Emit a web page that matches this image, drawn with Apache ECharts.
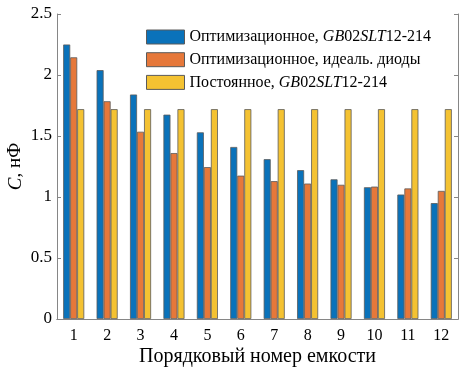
<!DOCTYPE html>
<html><head><meta charset="utf-8">
<script src="https://cdn.jsdelivr.net/npm/echarts@6/dist/echarts.min.js"></script>
<style>html,body{margin:0;padding:0;background:#fff}#c{width:466px;height:374px}</style>
</head><body><div id="c"></div>
<script>
const categories = ['1','2','3','4','5','6','7','8','9','10','11','12'];
const optimGB = [2.25, 2.04, 1.84, 1.675, 1.53, 1.41, 1.31, 1.22, 1.145, 1.08, 1.02, 0.95];
const optimIdeal = [2.145, 1.785, 1.535, 1.36, 1.245, 1.175, 1.13, 1.11, 1.10, 1.085, 1.07, 1.05];
const constGB = [1.72, 1.72, 1.72, 1.72, 1.72, 1.72, 1.72, 1.72, 1.72, 1.72, 1.72, 1.72];
const seriesNames = ['Оптимизационное, GB02SLT12-214', 'Оптимизационное, идеаль. диоды', 'Постоянное, GB02SLT12-214'];
const yTicks = [0, 0.5, 1, 1.5, 2, 2.5];

const FONT = '"Liberation Serif", "Times New Roman", serif';
const AX = '#868686';
const chart = echarts.init(document.getElementById('c'));
const edge = {borderColor: '#5a5a5a', borderWidth: 0.8};
function bar(name, data, color) {
  return {name, type: 'bar', data, barGap: '0%', barCategoryGap: '37%',
    itemStyle: Object.assign({color}, edge), xAxisIndex: 0, yAxisIndex: 0};
}
function fmtLegend(n) {
  if (n.indexOf('GB02SLT12-214') >= 0) {
    const pre = n.replace('GB02SLT12-214', '');
    return '{n|' + pre + '}{i|GB}{n|02}{i|SLT}{n|12-214}';
  }
  return '{n|' + n + '}';
}
const LF = 16;
chart.setOption({
  animation: false,
  backgroundColor: '#fff',
  textStyle: {fontFamily: FONT},
  grid: {left: 57, right: 8, top: 14, bottom: 55, containLabel: false, outerBoundsMode: 'none'},
  legend: {
    data: seriesNames, orient: 'vertical', left: 146, top: 29, padding: 0,
    icon: 'rect',
    itemWidth: 38, itemHeight: 14, itemGap: 6.7,
    itemStyle: {borderColor: '#5a5a5a', borderWidth: 1},
    formatter: fmtLegend,
    textStyle: {fontFamily: FONT, fontSize: LF, color: '#000',
      rich: {n: {fontFamily: FONT, fontSize: LF, color: '#000'},
             i: {fontFamily: FONT, fontSize: LF, color: '#000', fontStyle: 'italic'}}}
  },
  xAxis: [{
    type: 'category', data: categories, position: 'bottom',
    name: 'Порядковый номер емкости', nameLocation: 'middle', nameGap: 28,
    nameMoveOverlap: false,
    nameTextStyle: {fontFamily: FONT, fontSize: 20, color: '#000'},
    axisLine: {lineStyle: {color: AX, width: 1}},
    axisTick: {inside: true, alignWithLabel: true, length: 4, lineStyle: {color: AX}},
    axisLabel: {fontFamily: FONT, fontSize: 16, color: '#000', margin: 9},
    splitLine: {show: false}
  }, {
    type: 'category', data: categories, position: 'top',
    axisLine: {lineStyle: {color: AX, width: 1}},
    axisTick: {inside: true, alignWithLabel: true, length: 4, lineStyle: {color: AX}},
    axisLabel: {show: false}
  }],
  yAxis: [{
    type: 'value', min: 0, max: 2.5, interval: 0.5, position: 'left',
    name: '{i|C}, нФ', nameLocation: 'middle', nameGap: 32, nameRotate: 90,
    nameMoveOverlap: false,
    nameTextStyle: {fontFamily: FONT, fontSize: 19, color: '#000',
      rich: {i: {fontFamily: FONT, fontSize: 19, fontStyle: 'italic', color: '#000'}}},
    axisLine: {show: true, lineStyle: {color: AX, width: 1}},
    axisTick: {show: true, inside: true, length: 4, lineStyle: {color: AX}},
    axisLabel: {fontFamily: FONT, fontSize: 17, color: '#000', margin: 5,
      formatter: v => (yTicks.indexOf(v) >= 0 ? String(v) : '')},
    splitLine: {show: false}
  }, {
    type: 'value', min: 0, max: 2.5, interval: 0.5, position: 'right',
    axisLine: {show: true, lineStyle: {color: AX, width: 1}},
    axisTick: {show: true, inside: true, length: 4, lineStyle: {color: AX}},
    axisLabel: {show: false}, splitLine: {show: false}
  }],
  series: [
    bar(seriesNames[0], optimGB, '#0A72BA'),
    bar(seriesNames[1], optimIdeal, '#E6783A'),
    bar(seriesNames[2], constGB, '#F4C232')
  ]
});
</script></body></html>
